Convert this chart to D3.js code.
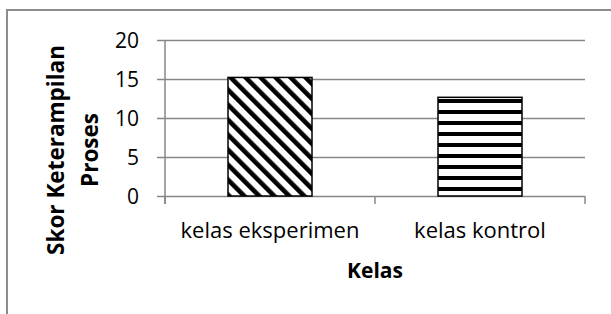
<!DOCTYPE html>
<html>
<head>
<meta charset="utf-8">
<script src="https://cdn.jsdelivr.net/npm/d3@7"></script>
<style>
  html, body { margin: 0; padding: 0; background: #fff; }
  svg { display: block; }
</style>
</head>
<body>
<svg id="chart" width="611" height="314"></svg>
<script>
const categories = ["kelas eksperimen", "kelas kontrol"];
const values = [15.2, 12.65];
const yTicks = [0, 5, 10, 15, 20];
const yTitleLines = ["Skor Keterampilan", "Proses"];
const xTitle = "Kelas";

const svg = d3.select("#chart");
const plotL = 165, plotR = 585, plotT = 40, plotB = 196;
const font = "'Open Sans', 'Noto Sans', sans-serif";
const gridColor = "#878787";

// Outer frame
svg.append("rect").attr("x", 7).attr("y", 10).attr("width", 620).attr("height", 320)
  .attr("fill", "none").attr("stroke", "#8c8c8c").attr("stroke-width", 2);

// Patterns
const defs = svg.append("defs");
const diag = defs.append("pattern").attr("id", "diag").attr("patternUnits", "userSpaceOnUse")
  .attr("width", 10.6).attr("height", 10.6).attr("patternTransform", "rotate(-45)");
diag.append("rect").attr("width", 10.6).attr("height", 10.6).attr("fill", "#fff");
diag.append("rect").attr("x", 0).attr("width", 4.6).attr("height", 10.6).attr("fill", "#000");

const horiz = defs.append("pattern").attr("id", "horiz").attr("patternUnits", "userSpaceOnUse")
  .attr("width", 11).attr("height", 11).attr("y", 0);
horiz.append("rect").attr("width", 11).attr("height", 11).attr("fill", "#fff");
horiz.append("rect").attr("y", 0).attr("width", 11).attr("height", 4).attr("fill", "#000");

const x = d3.scaleBand().domain(categories).range([plotL, plotR]).paddingInner(0.6).paddingOuter(0.3);
const y = d3.scaleLinear().domain([0, 20]).range([plotB, plotT]);

// Y axis with gridlines
const yAxis = svg.append("g").attr("transform", `translate(${plotL},0)`)
  .call(d3.axisLeft(y).tickValues(yTicks).tickSize(-(plotR - plotL)).tickSizeOuter(0).tickPadding(26));
yAxis.select(".domain").remove();
yAxis.selectAll(".tick line").attr("x1", -8).attr("stroke", gridColor).attr("stroke-width", 1.5);
yAxis.selectAll(".tick text").attr("font-family", font).attr("font-size", 21).attr("fill", "#000")
  .attr("dy", "0.36em");

// vertical axis line
svg.append("line").attr("x1", plotL).attr("x2", plotL).attr("y1", y(20)).attr("y2", plotB + 8)
  .attr("stroke", gridColor).attr("stroke-width", 1.5);

// X axis ticks at band boundaries
const step = x.step();
const boundaries = d3.range(categories.length + 1).map(i => plotL + i * step);
svg.append("g").selectAll("line").data(boundaries).join("line")
  .attr("x1", d => d).attr("x2", d => d).attr("y1", plotB).attr("y2", plotB + 8)
  .attr("stroke", gridColor).attr("stroke-width", 1.5);

// Bars
const fills = ["url(#diag)", "url(#horiz)"];
svg.append("g").selectAll("rect").data(values).join("rect")
  .attr("x", (d, i) => x(categories[i]))
  .attr("y", d => y(d))
  .attr("width", x.bandwidth())
  .attr("height", d => plotB - y(d))
  .attr("fill", (d, i) => fills[i])
  .attr("stroke", "#000").attr("stroke-width", 1.5);

// Category labels
svg.append("g").selectAll("text").data(categories).join("text")
  .attr("x", d => x(d) + x.bandwidth() / 2)
  .attr("y", 238)
  .attr("text-anchor", "middle")
  .attr("font-family", font).attr("font-size", 22).attr("fill", "#000")
  .text(d => d);

// X title
svg.append("text").attr("x", (plotL + plotR) / 2).attr("y", 278)
  .attr("text-anchor", "middle").attr("font-family", font).attr("font-size", 21)
  .attr("font-weight", "bold").attr("fill", "#000").text(xTitle);

// Y title
const yt = svg.append("text").attr("transform", "translate(0,150) rotate(-90)")
  .attr("text-anchor", "middle").attr("font-family", font).attr("font-size", 22.5)
  .attr("font-weight", "bold").attr("fill", "#000");
const baselines = [64, 98];
yTitleLines.forEach((t, i) => {
  yt.append("tspan").attr("x", 0).attr("y", baselines[i]).text(t);
});
</script>
</body>
</html>
